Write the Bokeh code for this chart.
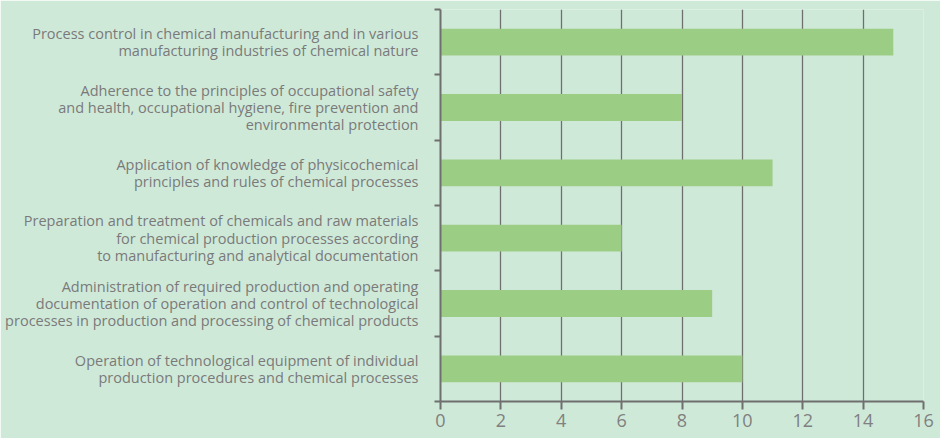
from bokeh.plotting import figure
from bokeh.models import Range1d, LinearAxis, FixedTicker
from bokeh.embed import file_html
from bokeh.resources import INLINE

categories = [
    "Process control in chemical manufacturing and in various\nmanufacturing industries of chemical nature",
    "Adherence to the principles of occupational safety\nand health, occupational hygiene, fire prevention and\nenvironmental protection",
    "Application of knowledge of physicochemical\nprinciples and rules of chemical processes",
    "Preparation and treatment of chemicals and raw materials\nfor chemical production processes according\nto manufacturing and analytical documentation",
    "Administration of required production and operating\ndocumentation of operation and control of technological\nprocesses in production and processing of chemical products",
    "Operation of technological equipment of individual\nproduction procedures and chemical processes",
]
values = [15, 8, 11, 6, 9, 10]
x_ticks = [0, 2, 4, 6, 8, 10, 12, 14, 16]

BG = "#cfe9d9"
BAR = "#9bce84"
AX = "#6f6f6f"
FONT = "Open Sans"

n = len(categories)
# first category on top: slot n-1 .. 0, bar centred in slot
centers = [n - 1 - i + 0.5 for i in range(n)]
bounds = list(range(n + 1))

p = figure(width=940, height=438, output_backend="svg", toolbar_location=None,
           y_range=Range1d(0, n), x_range=Range1d(0, 16),
           y_axis_location=None, x_axis_location="below",
           min_border_left=440, min_border_right=17, min_border_top=9, min_border_bottom=37)
p.background_fill_color = BG
p.border_fill_color = BG
p.outline_line_color = None

ya = LinearAxis(ticker=FixedTicker(ticks=centers, minor_ticks=bounds),
                major_label_overrides={c: t for c, t in zip(centers, categories)},
                axis_line_color=AX, axis_line_width=2,
                major_tick_line_color=None, major_tick_out=6, major_tick_in=0,
                minor_tick_line_color=AX, minor_tick_line_width=2,
                minor_tick_out=6, minor_tick_in=0,
                major_label_standoff=16,
                major_label_text_font=FONT, major_label_text_font_size="14.5px",
                major_label_text_color="#7a7a7a", major_label_text_line_height=0.91)
p.add_layout(ya, "left")

p.hbar(y=centers, right=values, left=0, height=0.41, color=BAR, line_color=None)

xa = p.xaxis[0]
xa.ticker = FixedTicker(ticks=x_ticks)
xa.axis_line_color = AX
xa.axis_line_width = 2
xa.major_tick_line_color = AX
xa.major_tick_line_width = 2
xa.major_tick_in = 0
xa.major_tick_out = 8
xa.minor_tick_line_color = None
xa.major_label_text_font = FONT
xa.major_label_text_font_size = "18px"
xa.major_label_text_color = "#808080"
xa.major_label_standoff = 4

p.xgrid.ticker = FixedTicker(ticks=x_ticks)
p.xgrid.grid_line_color = AX
p.xgrid.grid_line_width = 1.3
p.ygrid.grid_line_color = None

open("out.html", "w").write(file_html(p, INLINE))
